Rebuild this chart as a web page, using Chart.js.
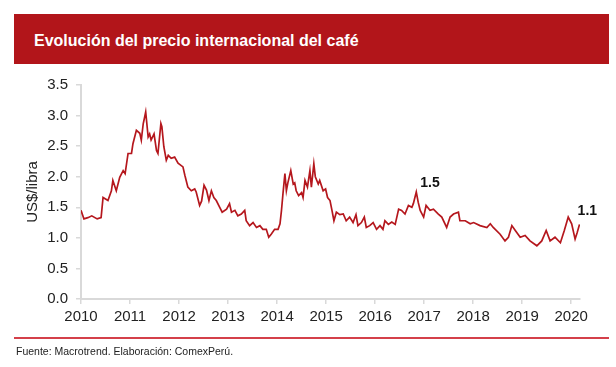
<!DOCTYPE html>
<html>
<head>
<meta charset="utf-8">
<script src="https://cdn.jsdelivr.net/npm/chart.js@4.4.1/dist/chart.umd.min.js"></script>
<style>
  html, body { margin: 0; padding: 0; background: #fff; }
  #wrap { position: relative; width: 616px; height: 367px; overflow: hidden; font-family: "Liberation Sans", Arial, sans-serif; }
  #header { position: absolute; left: 14px; top: 14px; width: 595px; height: 50px; background: #b2151a; }
  #header span { position: absolute; left: 20px; top: 19px; color: #fff; font-weight: bold; font-size: 16px; line-height: 16px; }
  #rule { position: absolute; left: 14px; top: 337px; width: 595px; height: 2px; background: #d4404a; }
  #fuente { position: absolute; left: 16px; top: 345px; font-size: 10.5px; color: #222; }
  #chart { position: absolute; left: 0; top: 0; }
</style>
</head>
<body>
<div id="wrap">
  <div id="header"><span>Evolución del precio internacional del café</span></div>
  <canvas id="chart" width="616" height="367"></canvas>
  <div id="rule"></div>
  <div id="fuente">Fuente: Macrotrend. Elaboración: ComexPerú.</div>
</div>
<script>
// fecha en años decimales y precio en US$/libra
const fechas = [
  2010.00, 2010.06, 2010.14, 2010.22, 2010.33, 2010.41, 2010.45, 2010.55, 2010.62, 2010.65,
  2010.72, 2010.79, 2010.86, 2010.90, 2010.96, 2011.03, 2011.06, 2011.13, 2011.20, 2011.23,
  2011.27, 2011.30, 2011.32, 2011.37, 2011.40, 2011.43, 2011.49, 2011.54, 2011.57, 2011.63,
  2011.65, 2011.69, 2011.74, 2011.78, 2011.84, 2011.91, 2011.98, 2012.08, 2012.12, 2012.18,
  2012.25, 2012.32, 2012.35, 2012.42, 2012.46, 2012.51, 2012.56, 2012.61, 2012.66, 2012.71,
  2012.76, 2012.83, 2012.88, 2012.97, 2013.03, 2013.07, 2013.14, 2013.20, 2013.27, 2013.34,
  2013.37, 2013.44, 2013.51, 2013.58, 2013.65, 2013.71, 2013.78, 2013.83, 2013.88, 2013.95,
  2014.02, 2014.06, 2014.09, 2014.12, 2014.16, 2014.19, 2014.22, 2014.28, 2014.33, 2014.36,
  2014.39, 2014.44, 2014.50, 2014.53, 2014.57, 2014.62, 2014.67, 2014.70, 2014.75, 2014.78,
  2014.84, 2014.87, 2014.94, 2014.99, 2015.03, 2015.08, 2015.12, 2015.16, 2015.21, 2015.28,
  2015.35, 2015.41, 2015.48, 2015.55, 2015.61, 2015.65, 2015.72, 2015.78, 2015.82, 2015.89,
  2015.96, 2016.03, 2016.10, 2016.16, 2016.20, 2016.27, 2016.34, 2016.41, 2016.48, 2016.54,
  2016.61, 2016.68, 2016.75, 2016.78, 2016.84, 2016.88, 2016.92, 2016.99, 2017.04, 2017.12,
  2017.19, 2017.29, 2017.36, 2017.46, 2017.53, 2017.60, 2017.70, 2017.73, 2017.84, 2017.94,
  2018.01, 2018.14, 2018.28, 2018.35, 2018.41, 2018.55, 2018.65, 2018.72, 2018.79, 2018.86,
  2018.96, 2019.06, 2019.16, 2019.30, 2019.40, 2019.49, 2019.57, 2019.67, 2019.78, 2019.86,
  2019.94, 2020.01, 2020.08, 2020.12, 2020.17
];
const precios = [
  1.45, 1.31, 1.33, 1.36, 1.31, 1.33, 1.66, 1.61, 1.77, 1.94,
  1.77, 1.99, 2.10, 2.05, 2.38, 2.38, 2.54, 2.76, 2.71, 2.60,
  2.87, 2.98, 3.06, 2.65, 2.70, 2.60, 2.70, 2.43, 2.38, 2.87,
  2.82, 2.49, 2.27, 2.35, 2.30, 2.32, 2.22, 2.16, 2.02, 1.83,
  1.77, 1.80, 1.75, 1.53, 1.60, 1.86, 1.78, 1.61, 1.77, 1.66,
  1.61, 1.50, 1.42, 1.47, 1.56, 1.42, 1.45, 1.36, 1.39, 1.45,
  1.28, 1.20, 1.25, 1.17, 1.20, 1.14, 1.14, 1.01, 1.06, 1.14,
  1.14, 1.23, 1.45, 1.72, 2.05, 1.77, 1.90, 2.10, 1.88, 1.90,
  1.77, 1.69, 1.74, 1.66, 1.94, 1.83, 2.10, 1.83, 2.21, 2.00,
  1.88, 1.94, 1.77, 1.80, 1.66, 1.61, 1.45, 1.28, 1.42, 1.38,
  1.39, 1.28, 1.34, 1.25, 1.38, 1.20, 1.25, 1.34, 1.17, 1.20,
  1.25, 1.14, 1.20, 1.14, 1.28, 1.22, 1.26, 1.22, 1.47, 1.45,
  1.39, 1.53, 1.50, 1.56, 1.75, 1.58, 1.45, 1.34, 1.53, 1.45,
  1.47, 1.39, 1.34, 1.17, 1.34, 1.39, 1.42, 1.28, 1.28, 1.23,
  1.25, 1.20, 1.17, 1.23, 1.17, 1.06, 0.95, 1.01, 1.20, 1.12,
  1.01, 1.04, 0.95, 0.87, 0.95, 1.12, 0.95, 1.01, 0.92, 1.12,
  1.34, 1.23, 0.98, 1.08, 1.22
];
const anosEje = [2010, 2011, 2012, 2013, 2014, 2015, 2016, 2017, 2018, 2019, 2020];
const notaTextos = ['1.5', '1.1'];
const notaFechas = [2017.12, 2020.33];
const notaValores = [1.90, 1.44];

const puntos = fechas.map((f, i) => ({ x: f, y: precios[i] }));

const notas = {
  id: 'notas',
  afterDatasetsDraw(chart) {
    const ctx = chart.ctx;
    ctx.save();
    ctx.font = 'bold 14px "Liberation Sans", Arial, sans-serif';
    ctx.fillStyle = '#111';
    ctx.textAlign = 'center';
    ctx.textBaseline = 'middle';
    notaTextos.forEach((t, i) => {
      ctx.fillText(t, chart.scales.x.getPixelForValue(notaFechas[i]), chart.scales.y.getPixelForValue(notaValores[i]));
    });
    ctx.restore();
  }
};

const axisFont = { family: '"Liberation Sans", Arial, sans-serif', size: 15 };

new Chart(document.getElementById('chart').getContext('2d'), {
  type: 'line',
  data: {
    datasets: [{
      data: puntos,
      borderColor: '#b5171d',
      borderWidth: 1.7,
      pointRadius: 0,
      tension: 0,
      fill: false
    }]
  },
  options: {
    responsive: false,
    animation: false,
    layout: { padding: { top: 85, left: 20, right: 36, bottom: 0 } },
    plugins: { legend: { display: false }, tooltip: { enabled: false } },
    scales: {
      x: {
        type: 'linear',
        min: 2010,
        max: 2020.18,
        afterBuildTicks: s => { s.ticks = anosEje.map(v => ({ value: v })); },
        afterFit: s => { s.height = 68; },
        ticks: { font: axisFont, color: '#222', padding: 4, autoSkip: false, maxRotation: 0, callback: v => String(v) },
        grid: { drawOnChartArea: false, tickLength: 5, color: '#d9d9d9', lineWidth: 1.5 },
        border: { color: '#d9d9d9', width: 2 }
      },
      y: {
        min: 0,
        max: 3.5,
        afterFit: s => { s.width = 61; },
        ticks: { stepSize: 0.5, font: axisFont, color: '#222', padding: 8, callback: v => v.toFixed(1) },
        grid: { drawOnChartArea: false, tickLength: 5, color: '#d9d9d9', lineWidth: 1.5 },
        border: { color: '#d9d9d9', width: 2 },
        title: { display: true, text: 'US$/libra', font: axisFont, color: '#222', padding: { top: 4, bottom: 4 } }
      }
    }
  },
  plugins: [notas]
});
</script>
</body>
</html>
